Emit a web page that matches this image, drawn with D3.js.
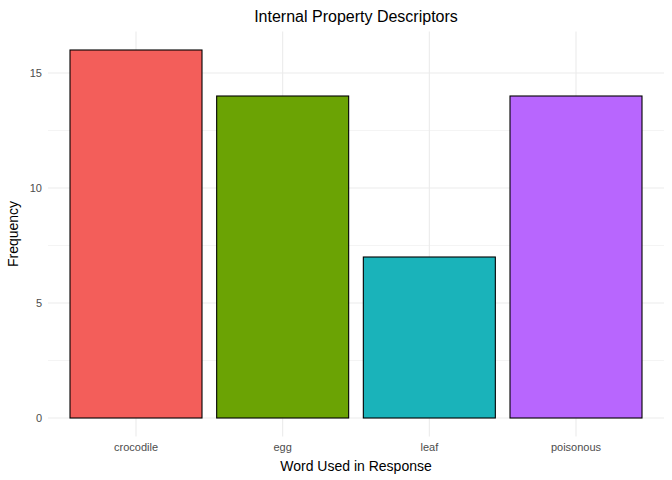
<!DOCTYPE html>
<html><head><meta charset="utf-8">
<script src="https://cdn.jsdelivr.net/npm/d3@7"></script>
<style>body{margin:0;background:#fff;font-family:"Liberation Sans",Arial,sans-serif}</style>
</head><body>
<script>
// data
const words = ['crocodile', 'egg', 'leaf', 'poisonous'];
const counts = [16, 14, 7, 14];
const colors = ['#F35E5A', '#6BA304', '#1AB3BA', '#B866FE'];
const yTicks = [0, 5, 10, 15];
const yMinor = [2.5, 7.5, 12.5];

const W = 672, H = 480;
const svg = d3.select('body').append('svg').attr('width', W).attr('height', H);

// panel positions (ggplot style expansions)
const pLeft = 48, pRight = 664, pTop = 31.6, pBottom = 436.4;
const step = (pRight - pLeft) / 4.2;
const x = d3.scaleLinear().domain([0.4, 4.6]).range([pLeft, pRight]);
const y = d3.scaleLinear().domain([-0.8, 16.8]).range([pBottom, pTop]);

const grid = svg.append('g').attr('stroke', '#ebebeb');
grid.selectAll('.minor').data(yMinor).join('line')
  .attr('x1', pLeft).attr('x2', pRight).attr('y1', d => y(d)).attr('y2', d => y(d)).attr('stroke-width', 0.55);
grid.selectAll('.major').data(yTicks).join('line')
  .attr('x1', pLeft).attr('x2', pRight).attr('y1', d => y(d)).attr('y2', d => y(d)).attr('stroke-width', 1.1);
grid.selectAll('.vx').data(words).join('line')
  .attr('y1', pTop).attr('y2', pBottom).attr('x1', (d, i) => x(i + 1)).attr('x2', (d, i) => x(i + 1)).attr('stroke-width', 1.1);

// bars
svg.selectAll('rect.bar').data(counts).join('rect')
  .attr('x', (d, i) => x(i + 1 - 0.45)).attr('width', step * 0.9)
  .attr('y', d => y(d)).attr('height', d => y(0) - y(d))
  .attr('fill', (d, i) => colors[i]).attr('stroke', '#000').attr('stroke-width', 1.1);

// tick labels
svg.selectAll('text.yt').data(yTicks).join('text')
  .attr('x', pLeft - 6).attr('y', d => y(d)).attr('dy', '0.35em').attr('text-anchor', 'end')
  .attr('font-size', 11).attr('fill', '#4d4d4d').text(d => d);
svg.selectAll('text.xt').data(words).join('text')
  .attr('x', (d, i) => x(i + 1)).attr('y', pBottom + 15).attr('text-anchor', 'middle')
  .attr('font-size', 11).attr('fill', '#4d4d4d').text(d => d);

// titles
svg.append('text').attr('x', (pLeft + pRight) / 2).attr('y', 22).attr('text-anchor', 'middle')
  .attr('font-size', 16).text('Internal Property Descriptors');
svg.append('text').attr('x', (pLeft + pRight) / 2).attr('y', 471).attr('text-anchor', 'middle')
  .attr('font-size', 14).text('Word Used in Response');
svg.append('text').attr('transform', `translate(18,${(pTop + pBottom) / 2}) rotate(-90)`)
  .attr('text-anchor', 'middle').attr('font-size', 14).text('Frequency');
</script>
</body></html>
